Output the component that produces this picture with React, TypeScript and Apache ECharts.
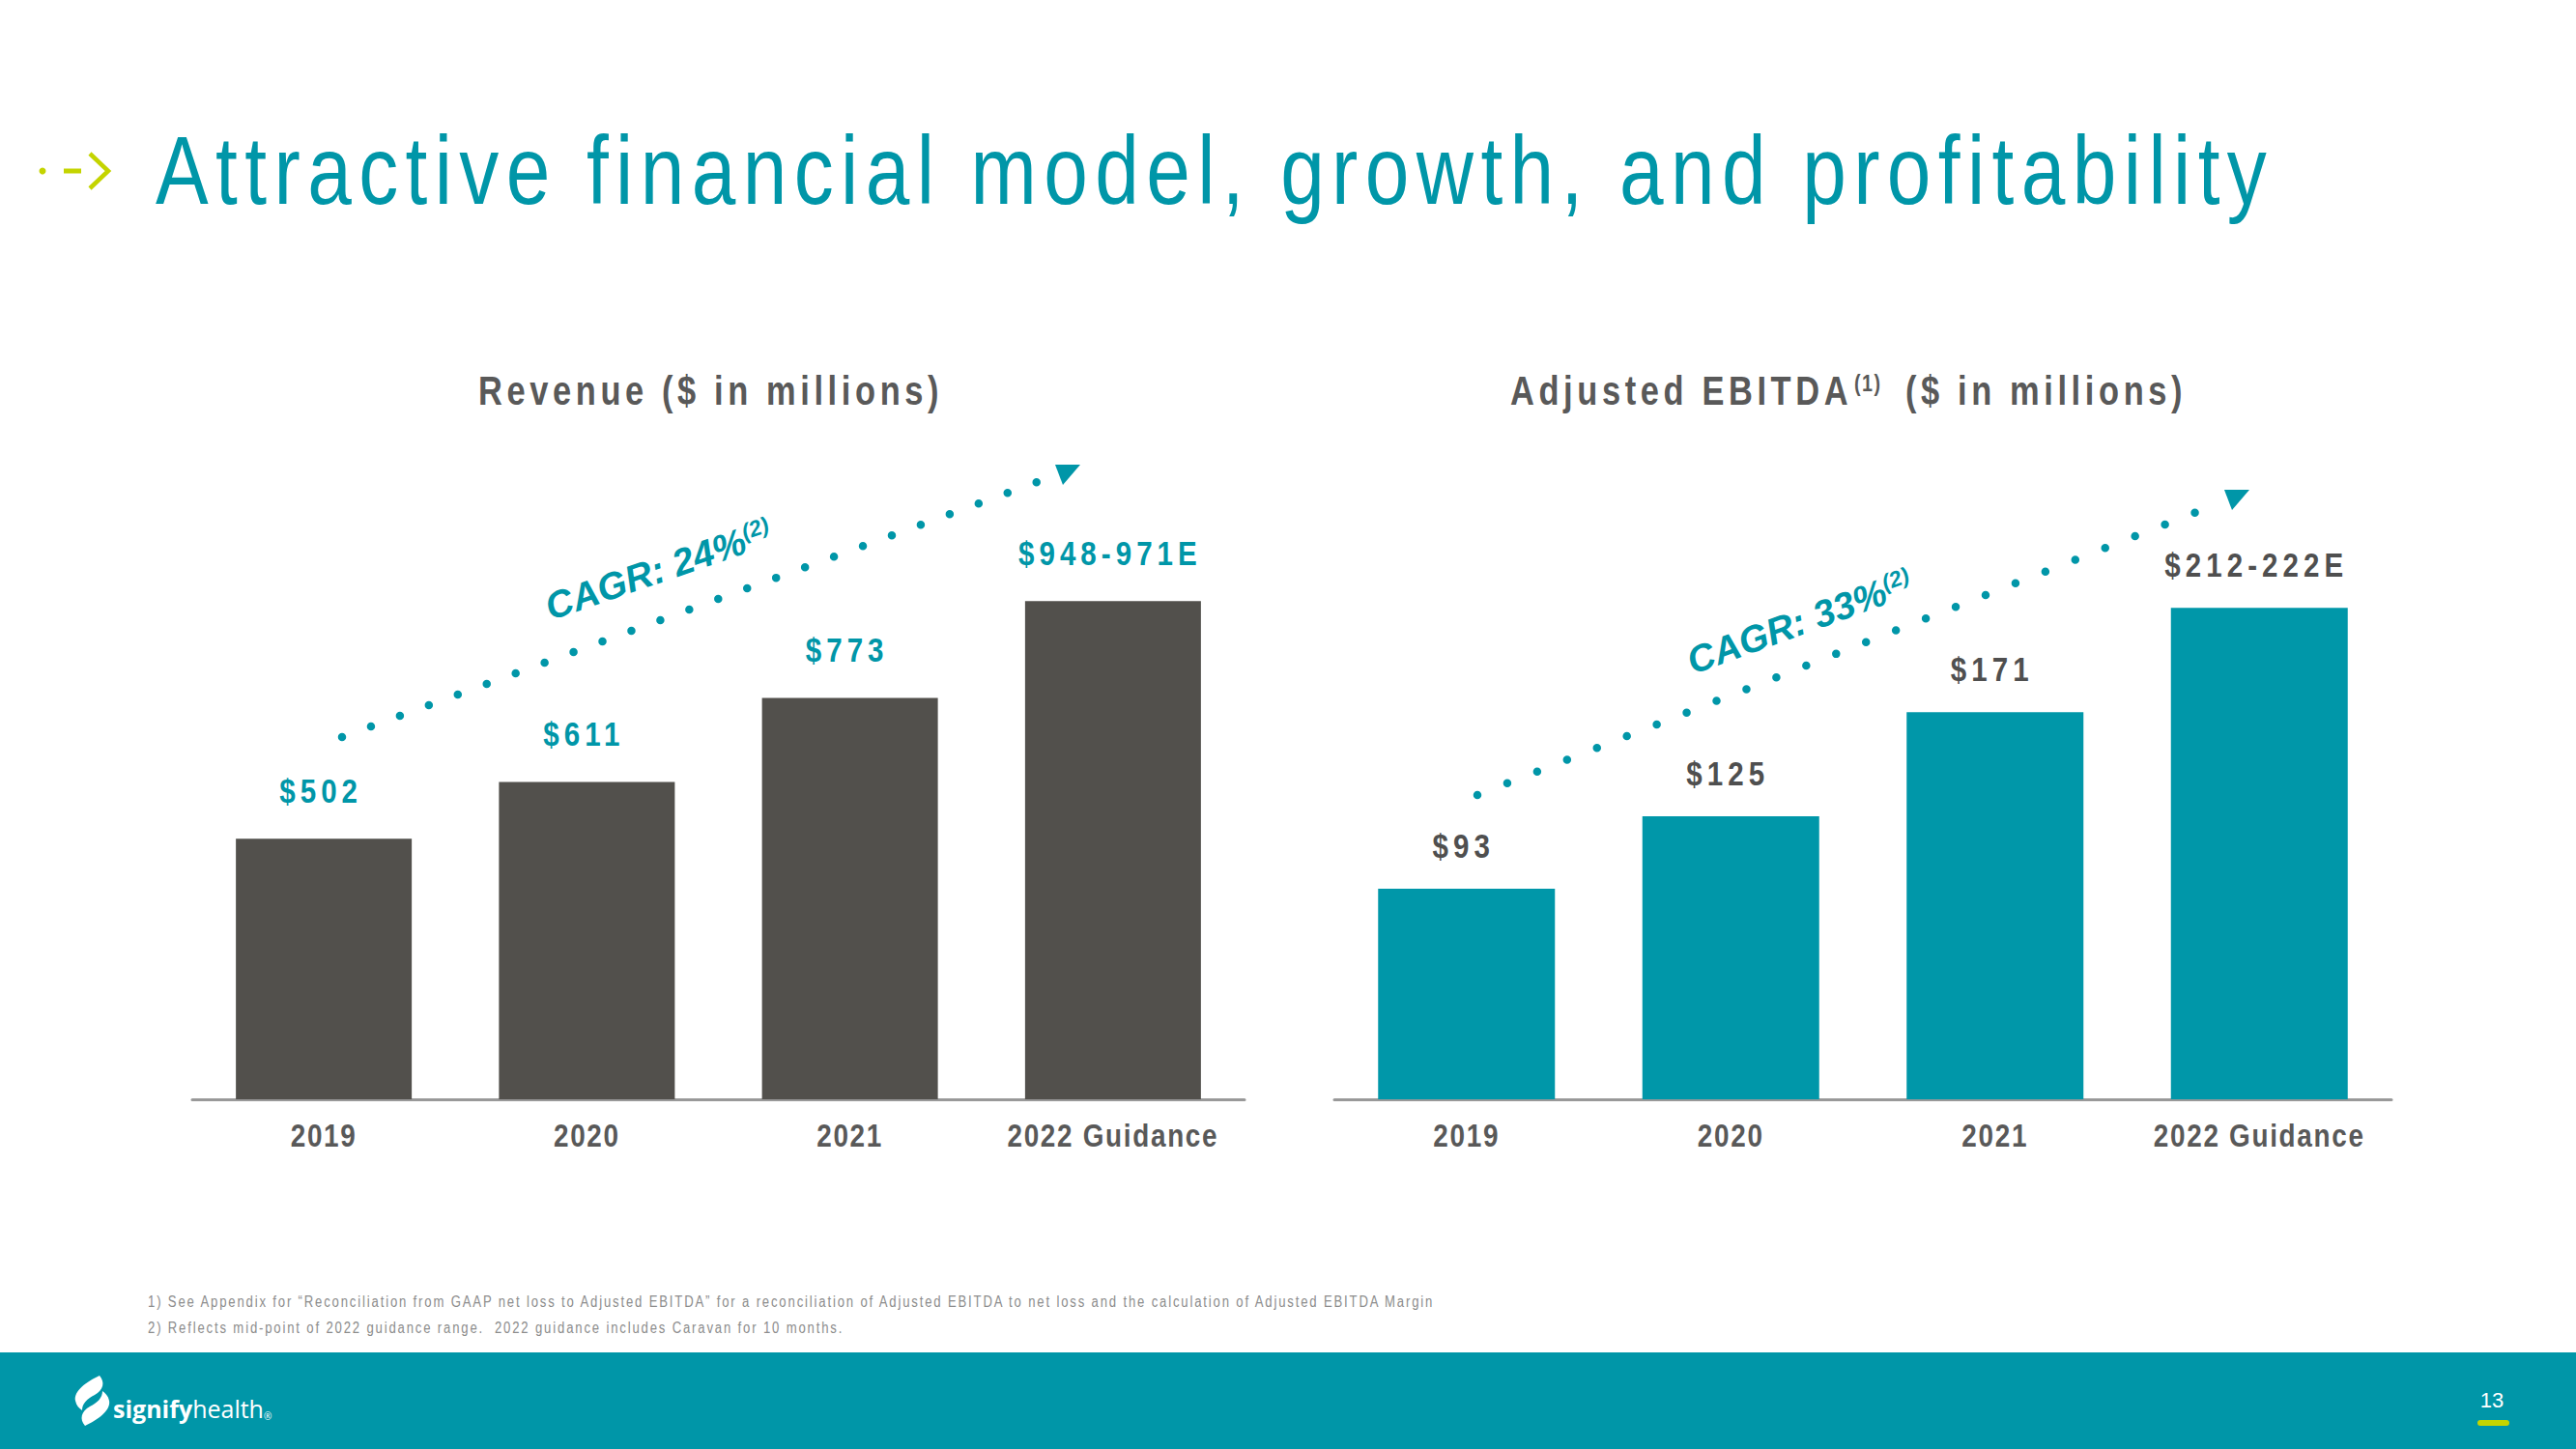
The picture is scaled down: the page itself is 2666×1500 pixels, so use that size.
import React, { useEffect, useRef } from "react";
import * as echarts from "echarts";

const categories = ["2019", "2020", "2021", "2022 Guidance"];
const revenueValues = [502, 611, 773, 959.5];
const revenueLabels = ["$502", "$611", "$773", "$948-971E"];
const ebitdaValues = [93, 125, 171, 217];
const ebitdaLabels = ["$93", "$125", "$171", "$212-222E"];

const pageTitle = "Attractive financial model, growth, and profitability";
const revenueTitle = "Revenue ($ in millions)";
const ebitdaTitleMain = "Adjusted EBITDA";
const ebitdaTitleSup = "(1)";
const ebitdaTitleTail = "($ in millions)";
const revenueCagr = "CAGR: 24%";
const ebitdaCagr = "CAGR: 33%";
const cagrSup = "(2)";
const footnotes = [
  "1) See Appendix for \u201cReconciliation from GAAP net loss to Adjusted EBITDA\u201d for a reconciliation of Adjusted EBITDA to net loss and the calculation of Adjusted EBITDA Margin",
  "2) Reflects mid-point of 2022 guidance range.  2022 guidance includes Caravan for 10 months.",
];
const pageNumber = "13";

// "Narrow" marks the texts that get the condensed, letter-spaced look of the slide
const NARROW = "'Liberation Sans Narrow', 'Arial Narrow', 'Liberation Sans', Arial, sans-serif";
const SANS = "'Liberation Sans', Arial, sans-serif";
const TEAL = "#0096a8";
const BAR_TEAL = "#0097a9";
const DARK = "#52504c";
const GRAY_TEXT = "#595959";
const LIME = "#c4d400";
const SQUEEZE = 0.82;

const LOGO_D =
  "M27 0 C14 6 0 16 2 26 C3 31 6 34 9 36 C9 29 14 24 22 20 C31 15 33 7 27 0 Z " +
  "M12 52 C25 46 39 36 37 26 C36 21 33 18 30 16 C30 23 25 28 17 32 C8 37 6 45 12 52 Z";

function spacingFor(fs: number) {
  let eff = 0;
  if (fs >= 80) eff = 0.074;
  else if (fs >= 38) eff = 0.11;
  else if (fs >= 35) eff = 0.14;
  else if (fs >= 30) eff = 0.05;
  else if (fs >= 20) eff = 0.06;
  else eff = 0.115;
  return (eff * fs) / SQUEEZE;
}

function condense(root: HTMLElement | null) {
  if (!root) return;
  root.querySelectorAll("text").forEach((node) => {
    const el = node as SVGTextElement;
    const cs = getComputedStyle(el);
    if (!/Narrow/i.test(cs.fontFamily)) return;
    const fs = parseFloat(cs.fontSize) || 12;
    el.style.letterSpacing = spacingFor(fs).toFixed(2) + "px";
    let base = el.getAttribute("transform") || "";
    const applied = el.getAttribute("data-applied");
    if (applied !== null && base === applied) base = el.getAttribute("data-base") || "";
    const x = parseFloat(el.getAttribute("x") || "0") || 0;
    const y = parseFloat(el.getAttribute("y") || "0") || 0;
    const t = (base + ` translate(${x} ${y}) scale(${SQUEEZE} 1) translate(${-x} ${-y})`).trim();
    el.setAttribute("data-base", base);
    el.setAttribute("transform", t);
    el.setAttribute("data-applied", t);
  });
}

export default function App() {
  const ref = useRef<HTMLDivElement>(null);

  useEffect(() => {
    document.body.style.margin = "0";
    try {
      echarts.graphic.registerShape("signifyLogo", echarts.graphic.extendPath(LOGO_D, {}) as any);
    } catch (e) {}
    const chart = echarts.init(ref.current!, null, { renderer: "svg", width: 2666, height: 1500 });

    const barLabel = (labels: string[], color: string, distance: number) => ({
      show: true,
      position: "top",
      distance,
      offset: [-3, 0],
      color,
      fontFamily: NARROW,
      fontWeight: "bold",
      fontSize: 36,
      formatter: (p: any) => labels[p.dataIndex],
    });

    const xAxisCommon = {
      type: "category",
      data: categories,
      axisTick: { show: false },
      axisLine: { show: true, lineStyle: { color: "#999999", width: 3 } },
      axisLabel: {
        color: GRAY_TEXT,
        fontFamily: NARROW,
        fontWeight: "bold",
        fontSize: 34,
        margin: 21,
        interval: 0,
      },
    };

    const cagrRich = {
      a: { fontFamily: SANS, fontStyle: "italic", fontWeight: "bold", fontSize: 39, fill: TEAL },
      s: { fontFamily: SANS, fontStyle: "italic", fontWeight: "bold", fontSize: 23, fill: TEAL, verticalAlign: "top" },
    };

    const option: any = {
      animation: false,
      backgroundColor: "#ffffff",
      textStyle: { fontFamily: NARROW },
      grid: [
        { left: 199, top: 493, width: 1089, height: 645 },
        { left: 1381, top: 552, width: 1094, height: 586 },
      ],
      xAxis: [
        { ...xAxisCommon, gridIndex: 0 },
        { ...xAxisCommon, gridIndex: 1 },
      ],
      yAxis: [
        { type: "value", gridIndex: 0, min: 0, max: 1200, show: false, splitLine: { show: false } },
        { type: "value", gridIndex: 1, min: 0, max: 250, show: false, splitLine: { show: false } },
      ],
      series: [
        {
          type: "bar",
          name: "Revenue",
          xAxisIndex: 0,
          yAxisIndex: 0,
          data: revenueValues,
          barWidth: 182,
          itemStyle: { color: DARK },
          label: barLabel(revenueLabels, TEAL, 32),
        },
        {
          type: "bar",
          name: "Adjusted EBITDA",
          xAxisIndex: 1,
          yAxisIndex: 1,
          data: ebitdaValues,
          barWidth: 183,
          itemStyle: { color: BAR_TEAL },
          label: barLabel(ebitdaLabels, "#4f4f4f", 27),
        },
      ],
      graphic: [
        // header arrow
        { type: "circle", shape: { cx: 44, cy: 177, r: 3.5 }, style: { fill: LIME } },
        { type: "line", shape: { x1: 66, y1: 177, x2: 84, y2: 177 }, style: { stroke: LIME, lineWidth: 5 } },
        {
          type: "polyline",
          shape: { points: [[93, 159], [112, 177], [93, 195]] },
          style: { stroke: LIME, lineWidth: 4.5, fill: null },
        },
        {
          type: "text",
          x: 161,
          y: 176,
          style: {
            text: pageTitle,
            fill: TEAL,
            fontFamily: NARROW,
            fontSize: 100,
            textAlign: "left",
            textVerticalAlign: "middle",
          },
        },
        {
          type: "text",
          x: 495,
          y: 404,
          style: {
            text: revenueTitle,
            fill: GRAY_TEXT,
            fontFamily: NARROW,
            fontWeight: "bold",
            fontSize: 42,
            textAlign: "left",
            textVerticalAlign: "middle",
          },
        },
        {
          type: "text",
          x: 1563,
          y: 404,
          style: {
            text: ebitdaTitleMain,
            fill: GRAY_TEXT,
            fontFamily: NARROW,
            fontWeight: "bold",
            fontSize: 42,
            textAlign: "left",
            textVerticalAlign: "middle",
          },
        },
        {
          type: "text",
          x: 1919,
          y: 397,
          style: {
            text: ebitdaTitleSup,
            fill: GRAY_TEXT,
            fontFamily: NARROW,
            fontWeight: "bold",
            fontSize: 24,
            textAlign: "left",
            textVerticalAlign: "middle",
          },
        },
        {
          type: "text",
          x: 1972,
          y: 404,
          style: {
            text: ebitdaTitleTail,
            fill: GRAY_TEXT,
            fontFamily: NARROW,
            fontWeight: "bold",
            fontSize: 42,
            textAlign: "left",
            textVerticalAlign: "middle",
          },
        },
        // Revenue CAGR dotted arrow
        {
          type: "polyline",
          shape: { points: [[354, 763], [1076, 498]] },
          style: { stroke: TEAL, lineWidth: 8.5, lineCap: "round", lineDash: [0, 31.9], fill: null },
        },
        {
          type: "polygon",
          shape: { points: [[1092, 481], [1100, 502], [1118, 481]] },
          style: { fill: TEAL },
        },
        {
          type: "text",
          x: 572,
          y: 648,
          rotation: (19 * Math.PI) / 180,
          style: {
            text: "{a|" + revenueCagr + "}{s|" + cagrSup + "}",
            fill: TEAL,
            textAlign: "left",
            textVerticalAlign: "bottom",
            rich: cagrRich,
          },
        },
        // EBITDA CAGR dotted arrow
        {
          type: "polyline",
          shape: { points: [[1529, 823], [2276, 529]] },
          style: { stroke: TEAL, lineWidth: 8.5, lineCap: "round", lineDash: [0, 33.25], fill: null },
        },
        {
          type: "polygon",
          shape: { points: [[2302, 507], [2310, 528], [2328, 507]] },
          style: { fill: TEAL },
        },
        {
          type: "text",
          x: 1754,
          y: 704,
          rotation: (20 * Math.PI) / 180,
          style: {
            text: "{a|" + ebitdaCagr + "}{s|" + cagrSup + "}",
            fill: TEAL,
            textAlign: "left",
            textVerticalAlign: "bottom",
            rich: cagrRich,
          },
        },
        // footnotes
        {
          type: "text",
          x: 153,
          y: 1348,
          style: { text: footnotes[0], fill: "#8c8c8c", fontFamily: NARROW, fontSize: 16, textVerticalAlign: "middle" },
        },
        {
          type: "text",
          x: 153,
          y: 1375,
          style: { text: footnotes[1], fill: "#8c8c8c", fontFamily: NARROW, fontSize: 16, textVerticalAlign: "middle" },
        },
        // footer
        { type: "rect", shape: { x: 0, y: 1400, width: 2666, height: 100 }, style: { fill: "#0096a8" }, z: -1 },
        {
          type: "signifyLogo",
          x: 76,
          y: 1424,
          scaleX: 1,
          scaleY: 1,
          style: { fill: "#ffffff" },
        },
        {
          type: "text",
          x: 117,
          y: 1458,
          style: {
            text: "{b|signify}{r|health}{t|\u00ae}",
            fill: "#ffffff",
            textVerticalAlign: "middle",
            rich: {
              b: { fontFamily: "'Open Sans', sans-serif", fontWeight: "bold", fontSize: 25, fill: "#ffffff" },
              r: { fontFamily: "'Open Sans', sans-serif", fontSize: 25, fill: "#ffffff" },
              t: { fontFamily: "'Open Sans', sans-serif", fontSize: 10, fill: "#ffffff", verticalAlign: "bottom" },
            },
          },
        },
        {
          type: "text",
          x: 2579,
          y: 1449,
          style: {
            text: pageNumber,
            fill: "#ffffff",
            fontFamily: SANS,
            fontSize: 22,
            textAlign: "center",
            textVerticalAlign: "middle",
          },
        },
        {
          type: "rect",
          shape: { x: 2564, y: 1470, width: 33, height: 6, r: 3 },
          style: { fill: LIME },
        },
      ],
    };

    chart.setOption(option);
    const root = ref.current;
    condense(root);
    const onFinished = () => condense(root);
    chart.on("finished", onFinished);
    const t1 = setTimeout(() => condense(root), 50);
    const t2 = setTimeout(() => condense(root), 300);

    return () => {
      clearTimeout(t1);
      clearTimeout(t2);
      chart.off("finished", onFinished);
      chart.dispose();
    };
  }, []);

  return (
    <div
      ref={ref}
      style={{ position: "absolute", left: 0, top: 0, width: 2666, height: 1500, background: "#ffffff" }}
    />
  );
}
